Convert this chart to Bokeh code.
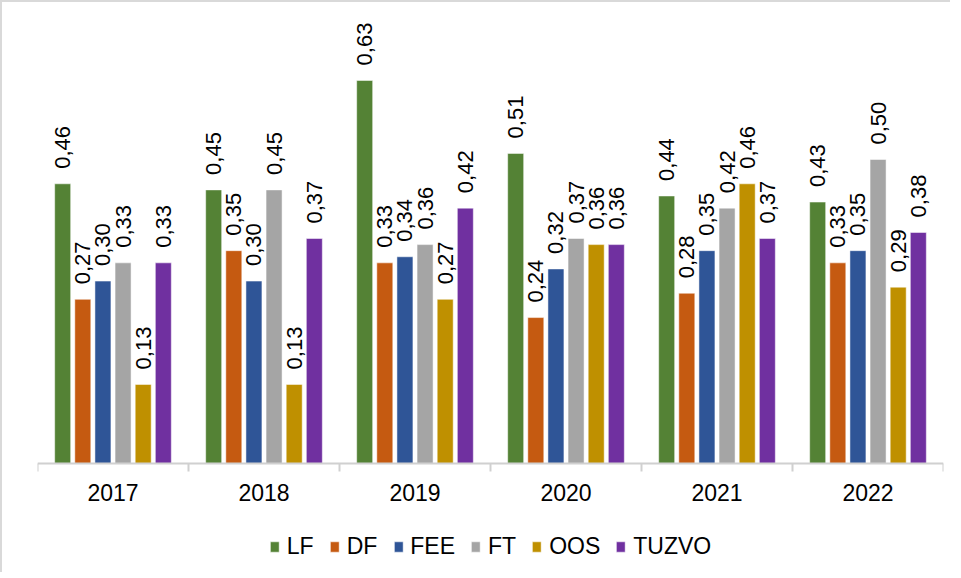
import numpy as np
from bokeh.plotting import figure
from bokeh.models import ColumnDataSource, Legend, LegendItem, Range1d, Span
from bokeh.core.properties import value
from bokeh.embed import file_html
from bokeh.resources import INLINE

years = ["2017", "2018", "2019", "2020", "2021", "2022"]
series = ["LF", "DF", "FEE", "FT", "OOS", "TUZVO"]
LF = [0.46, 0.45, 0.63, 0.51, 0.44, 0.43]
DF = [0.27, 0.35, 0.33, 0.24, 0.28, 0.33]
FEE = [0.30, 0.30, 0.34, 0.32, 0.35, 0.35]
FT = [0.33, 0.45, 0.36, 0.37, 0.42, 0.50]
OOS = [0.13, 0.13, 0.27, 0.36, 0.46, 0.29]
TUZVO = [0.33, 0.37, 0.42, 0.36, 0.37, 0.38]
data = [LF, DF, FEE, FT, OOS, TUZVO]
colors = ["#548235", "#C55A11", "#2F5597", "#A5A5A5", "#BF9000", "#7030A0"]

FONT = "Liberation Sans"
bar_w = 0.106
step = 0.1333
AXIS_COL = "#d0d0d0"

p = figure(width=950, height=572,
           x_range=Range1d(0, len(years)), y_range=Range1d(-0.1826, 0.7467),
           output_backend="svg", toolbar_location=None,
           min_border_left=35, min_border_right=9, min_border_top=7,
           min_border_bottom=0)
p.outline_line_color = None
p.grid.visible = False
p.xaxis.visible = False
p.yaxis.visible = False

# category axis line, boundary ticks and year labels
p.add_layout(Span(location=0, dimension="width", line_color=AXIS_COL, line_width=2))
bounds = list(range(len(years) + 1))
p.ray(x=bounds, y=[0] * len(bounds), length=8, length_units="screen",
      angle=-np.pi / 2, line_color=AXIS_COL, line_width=2)
p.text(x=[i + 0.5 for i in range(len(years))], y=[0] * len(years), text=years,
       text_align="center", text_baseline="middle", y_offset=29,
       text_font=value(FONT), text_font_size="23px", text_color="#000000")

renderers = []
for k, (name, vals, col) in enumerate(zip(series, data, colors)):
    off = (k - 2.5) * step
    xs = [i + 0.5 + off for i in range(len(years))]
    src = ColumnDataSource(dict(x=xs, top=vals,
                                lab=[f"{v:.2f}".replace(".", ",") for v in vals]))
    r = p.vbar(x="x", top="top", bottom=0, width=bar_w, source=src, fill_color=col,
               line_color="white", line_alpha=0.5, line_width=1)
    renderers.append((name, r))
    p.text(x="x", y="top", text="lab", source=src, angle=np.pi / 2,
           text_align="left", text_baseline="middle", y_offset=-15,
           text_font=value(FONT), text_font_size="22px", text_color="#000000")

legend = Legend(items=[LegendItem(label=n, renderers=[r]) for n, r in renderers],
                orientation="horizontal", location="bottom_center",
                label_text_font=FONT, label_text_font_size="23px",
                label_text_color="#000000", background_fill_alpha=0,
                glyph_width=11, glyph_height=13, label_standoff=7, spacing=15,
                border_line_color=None, padding=0, margin=14)
p.add_layout(legend, "center")
p.styles = {"border-left": "2px solid #d9d9d9", "border-top": "2px solid #d9d9d9"}

open("out.html", "w").write(file_html(p, INLINE))
